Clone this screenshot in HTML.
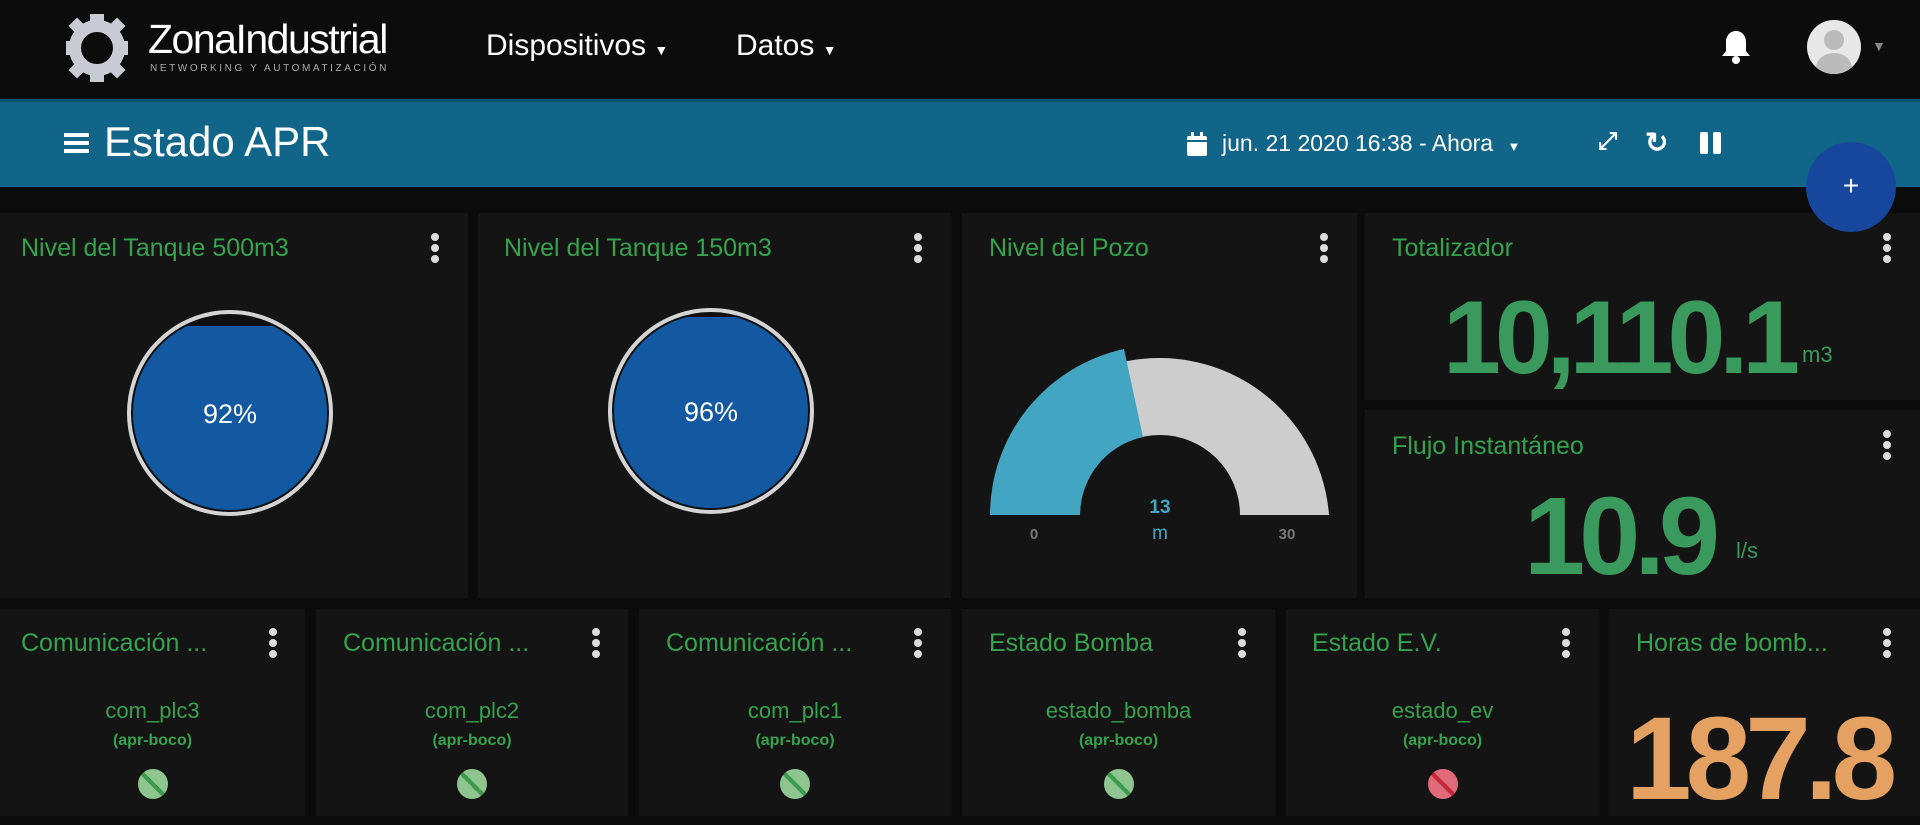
<!DOCTYPE html>
<html><head><meta charset="utf-8"><style>
*{margin:0;padding:0;box-sizing:border-box}
body{width:1920px;height:816px;background:#0b0b0b;overflow:hidden;position:relative;font-family:"Liberation Sans",sans-serif}
.a{position:absolute}
.card{position:absolute;background:#141414}
.t{position:absolute;color:#35a24e;font-size:25px;white-space:nowrap}
.dots{position:absolute;width:8px}
.dots i{display:block;width:8px;height:8px;border-radius:50%;background:#ddd;margin-bottom:3px}
.c{position:absolute;text-align:center;color:#35a24e;white-space:nowrap}
.ind{position:absolute;width:30px;height:30px;border-radius:50%}
.big{position:absolute;font-weight:bold;white-space:nowrap;line-height:1}
</style></head><body>
<div class="a" style="left:0;top:0;width:1920px;height:99px;background:#0c0c0c"></div>
<svg class="a" style="left:66px;top:12px" width="62" height="72" viewBox="0 0 62 72">
<circle cx="31" cy="36" r="22" fill="none" stroke="#c8ccd2" stroke-width="12"/>
<g fill="#c8ccd2"><rect x="24" y="2" width="14" height="12"/><rect x="24" y="58" width="14" height="12"/><rect x="0" y="29" width="12" height="14"/><rect x="50" y="29" width="12" height="14"/><rect x="5" y="8" width="12" height="12" transform="rotate(45 11 14)"/><rect x="45" y="8" width="12" height="12" transform="rotate(45 51 14)"/><rect x="5" y="52" width="12" height="12" transform="rotate(45 11 58)"/><rect x="45" y="52" width="12" height="12" transform="rotate(45 51 58)"/></g>
<circle cx="31" cy="36" r="13" fill="#0c0c0c"/></svg>
<div class="a" style="left:148px;top:16px;color:#fff;font-size:41px;letter-spacing:-1.5px">ZonaIndustrial</div>
<div class="a" style="left:150px;top:63px;color:#aaa;font-size:10px;letter-spacing:2.6px">NETWORKING Y AUTOMATIZACIÓN</div>
<div class="a" style="left:486px;top:29px;color:#fff;font-size:30px">Dispositivos <span style="font-size:14px">▼</span></div>
<div class="a" style="left:736px;top:29px;color:#fff;font-size:30px">Datos <span style="font-size:14px">▼</span></div>
<svg class="a" style="left:1720px;top:29px" width="32" height="36" viewBox="0 0 32 36"><path d="M16 2c-6 0-10 5-10 11v9l-4 5h28l-4-5v-9c0-6-4-11-10-11z" fill="#fff"/><circle cx="16" cy="31" r="4" fill="#fff"/></svg>
<div class="a" style="left:1807px;top:20px;width:54px;height:54px;border-radius:50%;background:#e8e8e8;overflow:hidden"><div class="a" style="left:17px;top:10px;width:20px;height:20px;border-radius:50%;background:#bbb"></div><div class="a" style="left:9px;top:33px;width:36px;height:30px;border-radius:50%;background:#bbb"></div></div>
<div class="a" style="left:1872px;top:38px;color:#888;font-size:14px">▼</div>

<div class="a" style="left:0;top:99px;width:1920px;height:88px;background:#106589;border-top:3px solid #0b5370"></div>
<div class="a" style="left:64px;top:133px;width:25px;height:4px;background:#fff;box-shadow:0 8px 0 #fff,0 16px 0 #fff"></div>
<div class="a" style="left:104px;top:118px;color:#fff;font-size:42px">Estado APR</div>
<svg class="a" style="left:1186px;top:131px" width="22" height="26"><rect x="1" y="5" width="20" height="20" rx="2" fill="#fff"/><rect x="5" y="1" width="3" height="6" fill="#fff"/><rect x="14" y="1" width="3" height="6" fill="#fff"/><rect x="1" y="9" width="20" height="2" fill="#106589"/></svg>
<div class="a" style="left:1222px;top:130px;color:#fff;font-size:23px">jun. 21 2020 16:38 - Ahora <span style="font-size:13px;margin-left:8px">▼</span></div>
<div class="a" style="left:1598px;top:128px;color:#fff;font-size:24px;font-weight:bold">⤢</div>
<div class="a" style="left:1645px;top:126px;color:#fff;font-size:28px;font-weight:bold">↻</div>
<div class="a" style="left:1700px;top:132px;width:8px;height:22px;background:#fff;border-radius:2px"></div>
<div class="a" style="left:1713px;top:132px;width:8px;height:22px;background:#fff;border-radius:2px"></div>

<!-- row1 -->
<div class="card" style="left:0;top:213px;width:468px;height:385px"></div>
<div class="card" style="left:478px;top:213px;width:473px;height:385px"></div>
<div class="card" style="left:962px;top:213px;width:395px;height:385px"></div>
<div class="card" style="left:1365px;top:213px;width:555px;height:187px"></div>
<div class="card" style="left:1365px;top:410px;width:555px;height:188px"></div>

<div class="t" style="left:21px;top:234px">Nivel del Tanque 500m3</div>
<div class="t" style="left:504px;top:234px">Nivel del Tanque 150m3</div>
<div class="t" style="left:989px;top:234px">Nivel del Pozo</div>
<div class="t" style="left:1392px;top:234px">Totalizador</div>
<div class="t" style="left:1392px;top:432px">Flujo Instantáneo</div>
<div class="dots" style="left:431px;top:233px"><i></i><i></i><i></i></div>
<div class="dots" style="left:914px;top:233px"><i></i><i></i><i></i></div>
<div class="dots" style="left:1320px;top:233px"><i></i><i></i><i></i></div>
<div class="dots" style="left:1883px;top:233px"><i></i><i></i><i></i></div>
<div class="dots" style="left:1883px;top:430px"><i></i><i></i><i></i></div>

<svg class="a" style="left:0;top:213px" width="951" height="385">
<defs><clipPath id="c1"><circle cx="230" cy="200" r="97"/></clipPath><clipPath id="c2"><circle cx="711" cy="198" r="97"/></clipPath></defs>
<circle cx="230" cy="200" r="101" fill="#0f0f0f" stroke="#d4d4d4" stroke-width="4"/>
<rect x="120" y="113" width="220" height="200" fill="#1259a1" clip-path="url(#c1)"/>
<text x="230" y="210" fill="#fff" font-size="27" text-anchor="middle" font-family="Liberation Sans">92%</text>
<circle cx="711" cy="198" r="101" fill="#0f0f0f" stroke="#d4d4d4" stroke-width="4"/>
<rect x="600" y="104" width="220" height="200" fill="#1259a1" clip-path="url(#c2)"/>
<text x="711" y="208" fill="#fff" font-size="27" text-anchor="middle" font-family="Liberation Sans">96%</text>
</svg>

<svg class="a" style="left:962px;top:213px" width="395" height="385">
<path d="M28 302 A170 170 0 0 1 367 302 L278 302 A80 80 0 0 0 118 302 Z" fill="#cdcdcd"/>
<path d="M28 302 A170 170 0 0 1 162 136 L181 224 A80 80 0 0 0 118 302 Z" fill="#42a6c3"/>
<text x="198" y="300" fill="#42a6c3" font-size="19" font-weight="bold" text-anchor="middle" font-family="Liberation Sans">13</text>
<text x="198" y="326" fill="#42a6c3" font-size="19" text-anchor="middle" font-family="Liberation Sans">m</text>
<text x="72" y="326" fill="#777" font-size="15" font-weight="bold" text-anchor="middle" font-family="Liberation Sans">0</text>
<text x="325" y="326" fill="#777" font-size="15" font-weight="bold" text-anchor="middle" font-family="Liberation Sans">30</text>
</svg>

<div class="big" style="left:1443px;top:286px;color:#3a9a5e;font-size:104px;letter-spacing:-6px">10,110.1</div>
<div class="a" style="left:1802px;top:342px;color:#3a9a5e;font-size:22px">m3</div>
<div class="big" style="left:1524px;top:482px;color:#3a9a5e;font-size:110px;letter-spacing:-6px">10.9</div>
<div class="a" style="left:1736px;top:538px;color:#3a9a5e;font-size:22px">l/s</div>

<div class="a" style="left:1806px;top:142px;width:90px;height:90px;border-radius:50%;background:#16479c;color:#fff;font-size:28px;text-align:center;line-height:88px">+</div>

<!-- row2 -->
<div class="card" style="left:0;top:609px;width:305px;height:207px"></div>
<div class="card" style="left:316px;top:609px;width:312px;height:207px"></div>
<div class="card" style="left:639px;top:609px;width:312px;height:207px"></div>
<div class="card" style="left:962px;top:609px;width:313px;height:207px"></div>
<div class="card" style="left:1286px;top:609px;width:313px;height:207px"></div>
<div class="card" style="left:1609px;top:609px;width:311px;height:207px"></div>

<div class="t" style="left:21px;top:629px">Comunicación ...</div>
<div class="t" style="left:343px;top:629px">Comunicación ...</div>
<div class="t" style="left:666px;top:629px">Comunicación ...</div>
<div class="t" style="left:989px;top:629px">Estado Bomba</div>
<div class="t" style="left:1312px;top:629px">Estado E.V.</div>
<div class="t" style="left:1636px;top:629px">Horas de bomb...</div>
<div class="dots" style="left:269px;top:628px"><i></i><i></i><i></i></div>
<div class="dots" style="left:592px;top:628px"><i></i><i></i><i></i></div>
<div class="dots" style="left:914px;top:628px"><i></i><i></i><i></i></div>
<div class="dots" style="left:1238px;top:628px"><i></i><i></i><i></i></div>
<div class="dots" style="left:1562px;top:628px"><i></i><i></i><i></i></div>
<div class="dots" style="left:1883px;top:628px"><i></i><i></i><i></i></div>

<div class="c" style="left:0;width:305px;top:698px;font-size:22px">com_plc3</div>
<div class="c" style="left:0;width:305px;top:732px;font-size:16px;font-weight:bold">(apr-boco)</div>
<div class="c" style="left:316px;width:312px;top:698px;font-size:22px">com_plc2</div>
<div class="c" style="left:316px;width:312px;top:732px;font-size:16px;font-weight:bold">(apr-boco)</div>
<div class="c" style="left:639px;width:312px;top:698px;font-size:22px">com_plc1</div>
<div class="c" style="left:639px;width:312px;top:732px;font-size:16px;font-weight:bold">(apr-boco)</div>
<div class="c" style="left:962px;width:313px;top:698px;font-size:22px">estado_bomba</div>
<div class="c" style="left:962px;width:313px;top:732px;font-size:16px;font-weight:bold">(apr-boco)</div>
<div class="c" style="left:1286px;width:313px;top:698px;font-size:22px">estado_ev</div>
<div class="c" style="left:1286px;width:313px;top:732px;font-size:16px;font-weight:bold">(apr-boco)</div>

<div class="ind" style="left:138px;top:769px;background:linear-gradient(45deg,#8fc58f 0 45%,#3e9a4e 45% 55%,#8fc58f 55%)"></div>
<div class="ind" style="left:457px;top:769px;background:linear-gradient(45deg,#8fc58f 0 45%,#3e9a4e 45% 55%,#8fc58f 55%)"></div>
<div class="ind" style="left:780px;top:769px;background:linear-gradient(45deg,#8fc58f 0 45%,#3e9a4e 45% 55%,#8fc58f 55%)"></div>
<div class="ind" style="left:1104px;top:769px;background:linear-gradient(45deg,#8fc58f 0 45%,#3e9a4e 45% 55%,#8fc58f 55%)"></div>
<div class="ind" style="left:1428px;top:769px;background:linear-gradient(45deg,#e06a7a 0 45%,#c42a3a 45% 55%,#e06a7a 55%)"></div>

<div class="big" style="left:1626px;top:700px;color:#e4a161;font-size:118px;letter-spacing:-6px">187.8</div>
</body></html>
